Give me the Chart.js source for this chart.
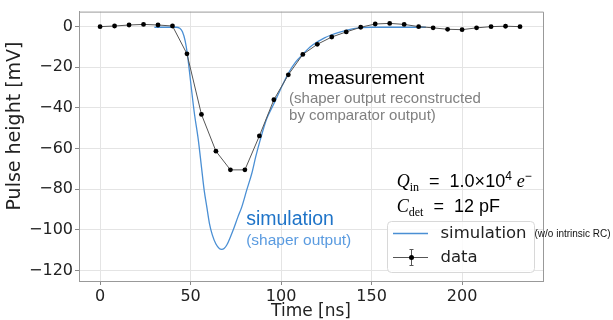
<!DOCTYPE html>
<html>
<head>
<meta charset="utf-8">
<script src="https://cdn.jsdelivr.net/npm/chart.js@4"></script>
<style>
  body { margin: 0; background: #fff; }
  canvas { display: block; }
</style>
</head>
<body>
<canvas id="chart" width="613" height="320"></canvas>
<script>
// measured points (time in ns, pulse height in mV)
const dataTime = [0, 8, 16, 24, 32, 40, 48, 56, 64, 72, 80, 88, 96, 104, 112, 120,
    128, 136, 144, 152, 160, 168, 176, 184, 192, 200, 208, 216, 224, 232];
const dataHeight = [0, 0.3, 0.8, 1.1, 0.8, 0.3, -13.4, -43.2, -61.3, -70.5, -70.5, -53.8, -36, -23.7, -13.7, -8.7,
    -5.1, -2.6, -0.3, 1.3, 1.6, 1.1, 0, -0.6, -1.3, -1.5, -0.6, 0, 0.2, 0];

// simulated shaper output
const simTime = [30, 36, 42, 44, 45.5, 47, 48.2, 50, 52, 54.3, 56, 57.5, 59, 60.4, 62, 64, 66, 67.2, 68.5, 70,
    72, 74, 76, 78.3, 81, 83.8, 86, 88.4, 92, 96, 99.4, 104, 108, 112.3, 116, 120, 124, 128, 132, 136,
    140, 144, 150, 160, 170, 180];
const simHeight = [-0.3, -0.3, -0.3, -0.8, -2.5, -7, -13.4, -27, -42, -56, -69, -80.5, -89, -96.8, -102.5, -107, -109.3, -109.6, -109.2, -107.5,
    -103.5, -99, -94, -88.7, -80.5, -72.3, -64, -56, -45.5, -38, -31.4, -23, -17.5, -13.4, -10, -7.5, -5.5, -4, -2.8, -1.8,
    -1, -0.5, -0.3, -0.3, -0.3, -0.3];

const xTicks = [0, 50, 100, 150, 200];
const yTicks = [0, -20, -40, -60, -80, -100, -120];

const toPoints = (xs, ys) => xs.map((x, i) => ({ x: x, y: ys[i] }));
const minus = v => v < 0 ? '\u2212' + Math.abs(v) : String(v);

// text labels, legend and frame drawn on top of the plot
const overlay = {
    id: 'overlay',
    afterDraw(chart) {
        const ctx = chart.ctx;
        const xs = chart.scales.x, ys = chart.scales.y;
        const area = chart.chartArea;
        const px = v => xs.getPixelForValue(v);
        const py = v => ys.getPixelForValue(v);

        ctx.save();
        // top / right frame
        ctx.strokeStyle = '#999';
        ctx.lineWidth = 1;
        ctx.beginPath();
        ctx.moveTo(area.left, area.top + 0.5);
        ctx.lineTo(area.right + 0.5, area.top + 0.5);
        ctx.lineTo(area.right + 0.5, area.bottom);
        ctx.stroke();

        // y axis title
        ctx.save();
        ctx.translate(15, 126);
        ctx.rotate(-Math.PI / 2);
        ctx.textAlign = 'center';
        ctx.textBaseline = 'middle';
        ctx.fillStyle = '#222';
        ctx.font = '19px "DejaVu Sans"';
        ctx.fillText('Pulse height [mV]', 0, 0);
        ctx.restore();

        ctx.textBaseline = 'alphabetic';
        ctx.textAlign = 'left';

        // measurement label
        ctx.fillStyle = '#000';
        ctx.font = '19px "Liberation Sans"';
        ctx.fillText('measurement', px(114.9), py(-28.2));
        ctx.fillStyle = '#808080';
        ctx.font = '15px "Liberation Sans"';
        ctx.fillText('(shaper output reconstructed', px(104.4), py(-37.8));
        ctx.fillText('by comparator output)', px(104.4), py(-46.1));

        // simulation label
        ctx.fillStyle = '#1f74c8';
        ctx.font = '19.5px "Liberation Sans"';
        ctx.fillText('simulation', px(80.7), py(-97.7));
        ctx.fillStyle = '#5a9be0';
        ctx.font = '15.5px "Liberation Sans"';
        ctx.fillText('(shaper output)', px(80.7), py(-107.3));

        // math text
        const run = (x, y, parts) => {
            parts.forEach(p => {
                ctx.font = p[1];
                ctx.fillText(p[0], x, y + (p[2] || 0));
                x += ctx.measureText(p[0]).width;
            });
        };
        ctx.fillStyle = '#000';
        const it = 'italic 18px "Liberation Serif"';
        const sub = '12px "Liberation Serif"';
        const rm = '18px "Liberation Sans"';
        const sup = '12px "Liberation Sans"';
        run(px(163.9), py(-79.1), [
            ['Q', it], ['in', sub, 4], ['  =  1.0\u00d710', rm], ['4', sup, -7], [' ', rm], ['e', it], ['\u2212', sup, -7]
        ]);
        run(px(163.9), py(-91.2), [
            ['C', it], ['det', sub, 4], ['  =  12 pF', rm]
        ]);

        // legend
        const lx = 387.5, ly = 221.5, lw = 147, lh = 51;
        ctx.fillStyle = 'rgba(255,255,255,0.85)';
        ctx.strokeStyle = '#d8d8d8';
        ctx.beginPath();
        ctx.roundRect(lx, ly, lw, lh, 4);
        ctx.fill();
        ctx.stroke();

        ctx.strokeStyle = '#4a8fd4';
        ctx.lineWidth = 1.3;
        ctx.beginPath();
        ctx.moveTo(393, 233.5);
        ctx.lineTo(428, 233.5);
        ctx.stroke();

        ctx.strokeStyle = '#555';
        ctx.lineWidth = 1;
        ctx.beginPath();
        ctx.moveTo(393, 257.5);
        ctx.lineTo(428, 257.5);
        ctx.moveTo(411.5, 249);
        ctx.lineTo(411.5, 266);
        ctx.moveTo(409.5, 249.5);
        ctx.lineTo(413.5, 249.5);
        ctx.moveTo(409.5, 265.5);
        ctx.lineTo(413.5, 265.5);
        ctx.stroke();
        ctx.fillStyle = '#000';
        ctx.beginPath();
        ctx.arc(411.5, 257.5, 2.5, 0, Math.PI * 2);
        ctx.fill();

        ctx.textBaseline = 'middle';
        ctx.fillStyle = '#222';
        ctx.font = '16.5px "DejaVu Sans"';
        ctx.fillText('simulation', 440.5, 233.5);
        ctx.fillText('data', 440.5, 257.5);
        ctx.fillStyle = '#111';
        ctx.font = '10px "Liberation Sans"';
        ctx.fillText('(w/o intrinsic RC)', 534.5, 234);
        ctx.restore();
    }
};

const ctx = document.getElementById('chart').getContext('2d');
new Chart(ctx, {
    type: 'line',
    data: {
        datasets: [
            {
                label: 'simulation',
                data: toPoints(simTime, simHeight),
                borderColor: '#4a8fd4',
                borderWidth: 1.3,
                pointRadius: 0,
                cubicInterpolationMode: 'monotone',
                order: 1
            },
            {
                label: 'data',
                data: toPoints(dataTime, dataHeight),
                borderColor: '#555',
                borderWidth: 1,
                pointRadius: 2.4,
                pointBackgroundColor: '#000',
                pointBorderWidth: 0,
                tension: 0,
                order: 0
            }
        ]
    },
    options: {
        responsive: false,
        animation: false,
        devicePixelRatio: 1,
        layout: { padding: { left: 0, top: 11, right: 70, bottom: 0 } },
        plugins: { legend: { display: false }, tooltip: { enabled: false } },
        scales: {
            x: {
                type: 'linear',
                min: -11.65,
                max: 244.7,
                afterBuildTicks: s => { s.ticks = xTicks.map(v => ({ value: v })); },
                afterFit: s => { s.height = 39; },
                grid: { color: '#e4e4e4', tickColor: '#888', tickLength: 4 },
                border: { color: '#999' },
                ticks: {
                    padding: 2,
                    color: '#222',
                    font: { family: 'DejaVu Sans', size: 16 },
                    maxRotation: 0,
                    callback: minus
                },
                title: {
                    display: true,
                    text: 'Time [ns]',
                    color: '#222',
                    font: { family: 'DejaVu Sans', size: 17, lineHeight: 1 },
                    padding: { top: 0, bottom: 0 }
                }
            },
            y: {
                type: 'linear',
                min: -125.2,
                max: 7.4,
                afterBuildTicks: s => { s.ticks = yTicks.map(v => ({ value: v })); },
                afterFit: s => { s.width = 79; },
                grid: { color: '#e4e4e4', tickColor: '#888', tickLength: 4 },
                border: { color: '#999' },
                ticks: {
                    padding: 2,
                    color: '#222',
                    font: { family: 'DejaVu Sans', size: 16 },
                    callback: minus
                }
            }
        }
    },
    plugins: [overlay]
});
</script>
</body>
</html>
